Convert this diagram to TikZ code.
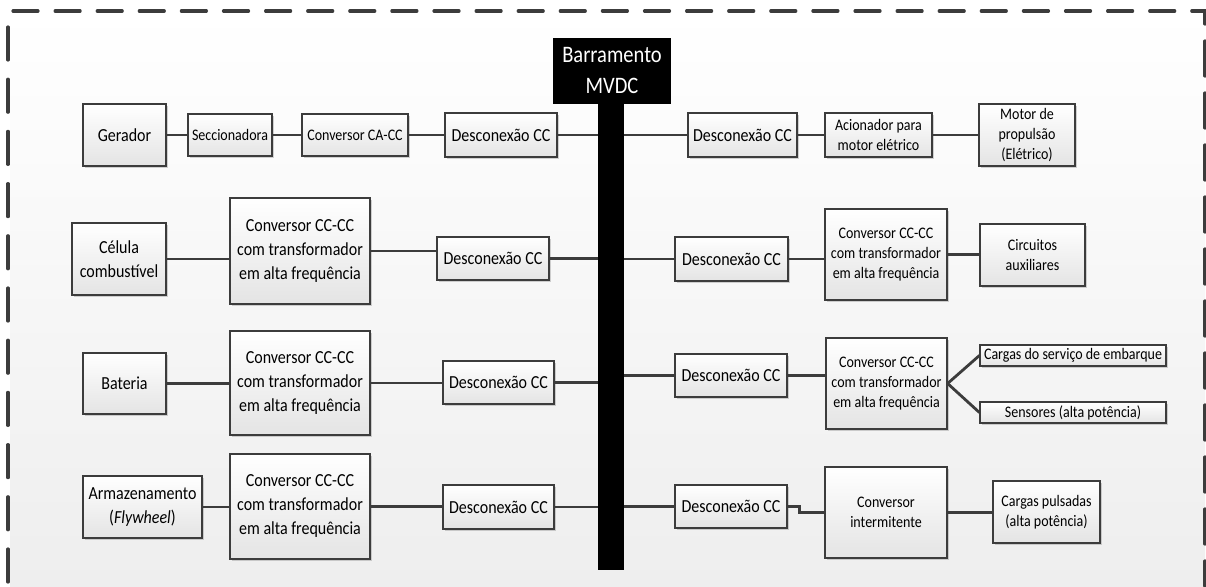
\documentclass[tikz,border=0pt]{standalone}
\usepackage{fontspec}
\setmainfont{Carlito}[FakeStretch=0.87]
\usetikzlibrary{shadows}
\definecolor{linec}{HTML}{3C3C3C}
\definecolor{boxbot}{HTML}{E4E4E4}
\definecolor{bgbot}{HTML}{EEEEEE}
\tikzset{
  box/.style={draw=linec, line width=1.2pt, top color=white, bottom color=boxbot,
    inner sep=0pt, align=center, text=black,
    drop shadow={shadow xshift=1.5pt, shadow yshift=-1.5pt, opacity=0.35, fill=gray}},
  conn/.style={draw=linec, line width=2.8pt},
  fL/.style={font=\fontsize{18.4}{24}\selectfont},
  fM/.style={font=\fontsize{16.1}{20}\selectfont},
  frame/.style={draw=linec, line width=3.2pt, line cap=round},
}
\begin{document}
\begin{tikzpicture}[x=1pt,y=-1pt]
\useasboundingbox (0,0) rectangle (1206,586);
% background
\shade[top color=white, bottom color=bgbot] (10,11) rectangle (1205,586);
\draw[frame, dash pattern=on 25pt off 17.1pt] (13,11) -- (1205,11);
\draw[frame, dash pattern=on 22pt off 17pt on 35pt off 17pt on 35pt off 17pt on 35pt off 17pt on 35pt off 17pt on 35pt off 17pt on 35pt off 17pt on 35pt off 17pt on 35pt off 17pt on 35pt off 17pt on 35pt off 17pt on 35pt off 17pt] (1196,11) -- (1205,11) -- (1205,586);
\draw[frame, dash pattern=on 33pt off 19.2pt] (8,27) -- (8,586);

% bus
\node[fill=black, inner sep=0pt, minimum width=26, minimum height=470] (bus) at (611,335) {};
\node[fill=black, inner sep=0pt, minimum width=118, minimum height=66, align=center, text=white,
  font=\fontsize{23.6}{31}\selectfont] (buslabel) at (612,71) {Barramento\\MVDC};

% row 1
\node[box, fL, minimum width=83, minimum height=62] (ger) at (124.5,135) {Gerador};
\node[box, fM, minimum width=84, minimum height=42] (sec) at (230,135) {Seccionadora};
\node[box, fM, minimum width=106, minimum height=42] (cacc) at (355,135) {Conversor CA-CC};
\node[box, fL, minimum width=112, minimum height=44] (d1l) at (501,135) {Desconexão CC};
\node[box, fL, minimum width=109, minimum height=44] (d1r) at (742.5,135) {Desconexão CC};
\node[box, fM, minimum width=107, minimum height=44] (acio) at (878.5,135) {Acionador para\\motor elétrico};
\node[box, fM, minimum width=96, minimum height=62] (motor) at (1027,135) {Motor de\\propulsão\\(Elétrico)};

% row 2
\node[box, fL, minimum width=94, minimum height=72] (cel) at (119,259) {Célula\\combustível};
\node[box, fL, minimum width=140, minimum height=106] (c2l) at (300,251) {Conversor CC-CC\\com transformador\\em alta frequência};
\node[box, fL, minimum width=112, minimum height=43] (d2l) at (493,258.5) {Desconexão CC};
\node[box, fL, minimum width=113, minimum height=44] (d2r) at (731.5,259) {Desconexão CC};
\node[box, fM, minimum width=122, minimum height=91] (c2r) at (886,254.5) {Conversor CC-CC\\com transformador\\em alta frequência};
\node[box, fM, minimum width=105, minimum height=62] (circ) at (1032.5,255) {Circuitos\\auxiliares};

% row 3
\node[box, fL, minimum width=83, minimum height=61] (bat) at (124.5,383.5) {Bateria};
\node[box, fL, minimum width=140, minimum height=104] (c3l) at (300,383) {Conversor CC-CC\\com transformador\\em alta frequência};
\node[box, fL, minimum width=111, minimum height=43] (d3l) at (498.5,382.5) {Desconexão CC};
\node[box, fL, minimum width=112, minimum height=43] (d3r) at (731,375.5) {Desconexão CC};
\node[box, fM, minimum width=121, minimum height=91] (c3r) at (886.5,383.5) {Conversor CC-CC\\com transformador\\em alta frequência};
\node[box, fM, minimum width=186, minimum height=21] (cargas) at (1073,355.5) {Cargas do serviço de embarque};
\node[box, fM, minimum width=186, minimum height=21] (sens) at (1073,412.5) {Sensores (alta potência)};

% row 4
\node[box, fL, minimum width=119, minimum height=62] (arm) at (142.5,507) {Armazenamento\\(\textit{Flywheel})};
\node[box, fL, minimum width=140, minimum height=105] (c4l) at (300,506.5) {Conversor CC-CC\\com transformador\\em alta frequência};
\node[box, fL, minimum width=111, minimum height=44] (d4l) at (498.5,507) {Desconexão CC};
\node[box, fL, minimum width=112, minimum height=43] (d4r) at (731,506.5) {Desconexão CC};
\node[box, fM, minimum width=122, minimum height=91] (cint) at (886,512.5) {Conversor\\intermitente};
\node[box, fM, minimum width=107, minimum height=62] (puls) at (1046.5,512) {Cargas pulsadas\\(alta potência)};

% connectors row 1
\draw[conn] (ger.east) -- (sec.west);
\draw[conn] (sec.east) -- (cacc.west);
\draw[conn] (cacc.east) -- (d1l.west);
\draw[conn] (d1l.east) -- (d1l.east -| bus.west);
\draw[conn] (bus.east |- d1r.west) -- (d1r.west);
\draw[conn] (d1r.east) -- (acio.west);
\draw[conn] (acio.east) -- (motor.west);
% row 2
\draw[conn] (cel.east) -- (cel.east -| c2l.west);
\draw[conn] (c2l.east) -- (c2l.east -| d2l.west);
\draw[conn] (d2l.east) -- (d2l.east -| bus.west);
\draw[conn] (bus.east |- d2r.west) -- (d2r.west);
\draw[conn] (d2r.east) -- (d2r.east -| c2r.west);
\draw[conn] (c2r.east) -- (c2r.east -| circ.west);
% row 3
\draw[conn] (bat.east) -- (bat.east -| c3l.west);
\draw[conn] (c3l.east) -- (c3l.east -| d3l.west);
\draw[conn] (d3l.east) -- (d3l.east -| bus.west);
\draw[conn] (bus.east |- d3r.west) -- (d3r.west);
\draw[conn] (d3r.east) -- (d3r.east -| c3r.west);
\draw[conn] (c3r.east) -- (cargas.west);
\draw[conn] (c3r.east) -- (sens.west);
% row 4
\draw[conn] (arm.east) -- (arm.east -| c4l.west);
\draw[conn] (c4l.east) -- (c4l.east -| d4l.west);
\draw[conn] (d4l.east) -- (d4l.east -| bus.west);
\draw[conn] (bus.east |- d4r.west) -- (d4r.west);
\draw[conn] (d4r.east) -- ++(12,0) |- (cint.west);
\draw[conn] (cint.east) -- (cint.east -| puls.west);
\end{tikzpicture}
\end{document}
